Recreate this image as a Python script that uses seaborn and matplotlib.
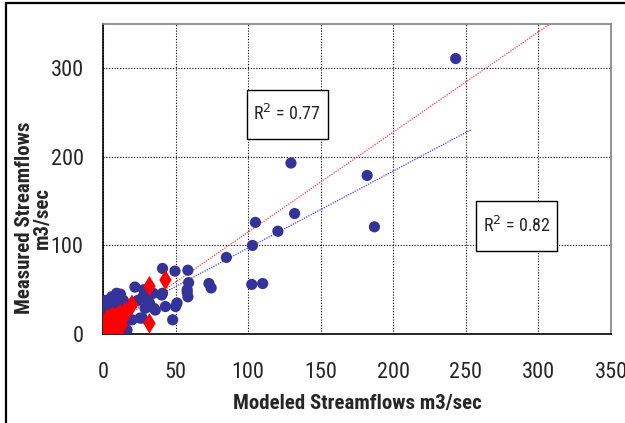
import numpy as np
import pandas as pd
import seaborn as sns
import matplotlib.pyplot as plt
from matplotlib.patches import Rectangle

# valeurs
blue_x = [243, 129.5, 182, 187, 132, 105, 120.5, 103, 85, 102.5, 110, 73, 74.5,
          41, 49.6, 58.5, 59, 58, 58.5, 51, 50, 48, 43, 41, 34.6, 31, 27.6, 24,
          29, 27, 20, 14, 16, 32, 36, 20.6, 18.6, 22, 28, 9.4, 58, 40.5, 35, 30,
          25.5, 16.5,
          1, 2, 3, 1, 2, 4, 5, 6, 7, 3, 1, 2, 5, 6, 8, 10, 9, 12, 4, 2, 1, 3, 6,
          8, 10, 14, 1, 2, 0.5, 0.5, 0.5, 11, 13, 15, 16, 7, 9, 11, 14, 12, 6]
blue_y = [311, 193, 179, 121, 136, 126, 116, 100, 86.5, 56, 57, 57, 52,
          74, 71, 72, 58, 47, 42, 35, 31, 16, 31, 46, 46, 49, 42, 38,
          29, 18, 16, 8, 4.5, 35, 27, 35, 31, 53, 50, 46, 50, 44, 29, 40,
          18, 4.5,
          36, 38, 35, 30, 28, 30, 32, 34, 37, 25, 22, 20, 22, 26, 28, 30, 24, 20,
          15, 12, 8, 5, 10, 15, 18, 22, 2, 1, 15, 25, 33, 12, 26, 8, 4, 6, 40,
          33, 38, 45, 42]

red_x = [32, 43, 32, 20, 13, 15, 12, 10, 8, 6, 5, 4, 3, 2, 1, 0.5, 2, 3, 5, 7,
         9, 11, 6, 8, 4, 1, 2, 3, 0.5, 10, 12, 14, 7, 9, 5, 11, 1, 6, 13, 16]
red_y = [54, 61, 12, 33, 10, 25, 22, 20, 18, 15, 12, 10, 8, 6, 4, 2, 3, 1, 5, 8,
         12, 15, 3, 5, 2, 10, 14, 17, 7, 8, 16, 18, 20, 2, 18, 4, 1, 9, 21, 24]

# courbes de tendance (pente, ordonnée, étendue en x)
red_trend = (1.13, 2.0, 0, 310)
blue_trend = (0.87, 10.0, 0, 254)
r2_red = 0.77
r2_blue = 0.82

blue = pd.DataFrame({"x": blue_x, "y": blue_y})
red = pd.DataFrame({"x": red_x, "y": red_y})

def trend_df(t):
    xs = np.linspace(t[2], t[3], 60)
    return pd.DataFrame({"x": xs, "y": t[0] * xs + t[1]})

sns.set_style("white")
narrow = ["Roboto Condensed", "Archivo Narrow", "Liberation Sans"]
plt.rcParams["font.family"] = narrow

fig = plt.figure(figsize=(6.25, 4.23), dpi=100)
ax = fig.add_axes([0.1648, 0.2104, 0.8128, 0.7329])

sns.scatterplot(data=blue, x="x", y="y", ax=ax, color="#333399", marker="o",
                s=65, edgecolor="none", zorder=3)
sns.scatterplot(data=red, x="x", y="y", ax=ax, color="#FF0000", marker="d",
                s=110, edgecolor="none", zorder=4)
sns.lineplot(data=trend_df(red_trend), x="x", y="y", ax=ax, color="#FF4040",
             linewidth=0.9, linestyle=(0, (1, 1)), zorder=2)
sns.lineplot(data=trend_df(blue_trend), x="x", y="y", ax=ax, color="#4040FF",
             linewidth=0.9, linestyle=(0, (1, 1)), zorder=2)

ax.set_xlim(0, 350)
ax.set_ylim(0, 350)
ax.set_xticks(range(0, 351, 50))
ax.set_yticks([0, 100, 200, 300])
ax.grid(True, color="black", linestyle=(0, (1, 1.5)), linewidth=0.8)
ax.tick_params(axis="both", direction="out", length=5, width=1, color="black",
               labelsize=16)
ax.tick_params(axis="y", pad=9)
ax.tick_params(axis="x", pad=15)
for s in ["left", "bottom"]:
    ax.spines[s].set_color("black")
    ax.spines[s].set_linewidth(1.2)
for s in ["top", "right"]:
    ax.spines[s].set_color("#808080")
    ax.spines[s].set_linewidth(1.2)

ax.set_xlabel("Modeled Streamflows m3/sec", fontsize=15, fontweight="bold", labelpad=8)
ax.set_ylabel("Measured Streamflows\nm3/sec", fontsize=15, fontweight="bold",
              linespacing=0.95)
ax.yaxis.set_label_coords(-0.1, 0.375)

# cadres des R²
for (x0, y0, w, h), r2 in [((99, 220, 56, 56), r2_red), ((257, 94, 56, 56.5), r2_blue)]:
    ax.add_patch(Rectangle((x0, y0), w, h, facecolor="white", edgecolor="black",
                           linewidth=1, zorder=5))
    ax.text(x0 + w / 2, y0 + h / 2, f"R$^2$ = {r2}", fontsize=13, ha="center",
            va="center", zorder=6)

fig.patches.append(Rectangle((6 / 625, -0.1), 1.2, 1 - 3 / 423 + 0.1,
                             transform=fig.transFigure, fill=False,
                             edgecolor="black", linewidth=1.6))

fig.savefig("out.png", dpi=100)
